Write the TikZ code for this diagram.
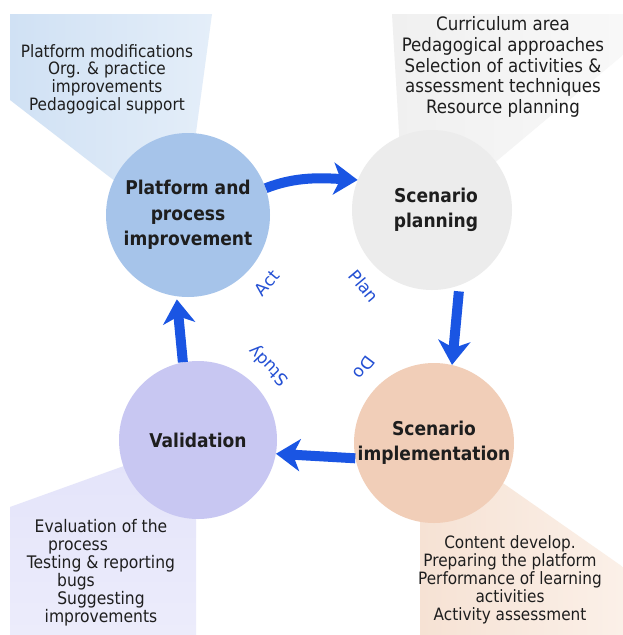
\documentclass[tikz,border=0pt]{standalone}
\usepackage{fontspec}
\setmainfont{DejaVu Sans Condensed}
\newfontfamily\labelfont{DejaVu Sans}
\usetikzlibrary{arrows.meta}
\definecolor{arrowblue}{HTML}{1A55E3}
\definecolor{labelblue}{HTML}{2450D4}
\definecolor{txt}{HTML}{1E1E1E}
\definecolor{platfill}{HTML}{A6C4EA}
\definecolor{planfill}{HTML}{ECECEC}
\definecolor{implfill}{HTML}{F1CEB8}
\definecolor{valfill}{HTML}{C8C7F2}
\definecolor{fanblueA}{HTML}{D0E1F4}
\definecolor{fanblueB}{HTML}{E4EEF9}
\definecolor{fangrayA}{HTML}{F0F0F0}
\definecolor{fangrayB}{HTML}{F8F8F8}
\definecolor{fanlavA}{HTML}{E4E4FA}
\definecolor{fanlavB}{HTML}{ECECFB}
\definecolor{fanpeachA}{HTML}{F6E2D4}
\definecolor{fanpeachB}{HTML}{FBF0E8}
\tikzset{
  stage/.style={circle, inner sep=0pt, align=center, text=txt,
    font=\fontsize{19}{25.5}\selectfont\bfseries},
  info/.style={align=center, inner sep=0pt, text=txt},
  phase/.style={text=labelblue, inner sep=0pt, font=\labelfont\fontsize{17}{17}\selectfont},
  cyc/.style={draw=arrowblue, line width=10pt,
    -{Stealth[length=24pt,width=32pt,inset=7pt]}}
}
\begin{document}
\begin{tikzpicture}[x=1pt,y=-1pt]
\useasboundingbox (0,0) rectangle (623,635);
\fill[white] (0,0) rectangle (623,635);
% fans
\shade[left color=fanblueA, right color=fanblueB]
  (10,14) -- (212,14) -- (195,140) -- (120,185) -- (10,100) -- cycle;
\shade[left color=fangrayA, right color=fangrayB]
  (392,14) -- (623,14) -- (623,55) -- (480,175) -- (400,150) -- cycle;
\shade[top color=fanlavA, bottom color=fanlavB]
  (10,507) -- (135,462) -- (196,505) -- (196,635) -- (10,635) -- cycle;
\shade[left color=fanpeachA, right color=fanpeachB]
  (420,500) -- (500,481) -- (623,567) -- (623,635) -- (420,635) -- cycle;
% circles
\node[stage, fill=platfill, minimum size=164pt] (plat) at (188,215)
  {Platform and\\process\\improvement};
\node[stage, fill=planfill, minimum size=160pt] (plan) at (432,210)
  {\hspace*{8pt}Scenario\\\hspace*{8pt}planning};
\node[stage, fill=implfill, minimum size=160pt] (impl) at (434,443)
  {Scenario\\implementation};
\node[stage, fill=valfill, minimum size=158pt] (val) at (198,440)
  {Validation};
% info texts
\node[info, font=\fontsize{17}{17.7}\selectfont] (platinfo) at (107,79)
  {Platform modifications\\Org. \& practice\\improvements\\Pedagogical support};
\node[info, font=\fontsize{18.5}{20.75}\selectfont] (planinfo) at (503,67)
  {Curriculum area\\Pedagogical approaches\\Selection of activities \&\\assessment techniques\\Resource planning};
\node[info, font=\fontsize{17.3}{18}\selectfont] (valinfo) at (101,573)
  {Evaluation of the\\process\rule{46pt}{0pt}\\Testing \& reporting\\bugs\rule{50pt}{0pt}\\Suggesting\\improvements};
\node[info, font=\fontsize{17}{18}\selectfont] (implinfo) at (510,580)
  {Content develop.\\Preparing the platform\\Performance of learning\\activities\\Activity assessment};
% arrows
\draw[cyc] (plat.19) .. controls +(30,-12) and +(-35,-2) .. (plan.158);
\draw[cyc, shorten <=6pt] (plan.-70) -- (impl.77);
\draw[cyc] (impl.191) -- (val.-10);
\draw[cyc, shorten >=3pt] (val.101) -- (plat.262);
% phase labels
\node[phase, rotate=50] (act) at (267,283) {Act};
\node[phase, rotate=-50] (planlbl) at (364,286) {Plan};
\node[phase, rotate=-127] (do) at (364,368) {Do};
\node[phase, rotate=134] (study) at (269,365) {Study};
\end{tikzpicture}
\end{document}
